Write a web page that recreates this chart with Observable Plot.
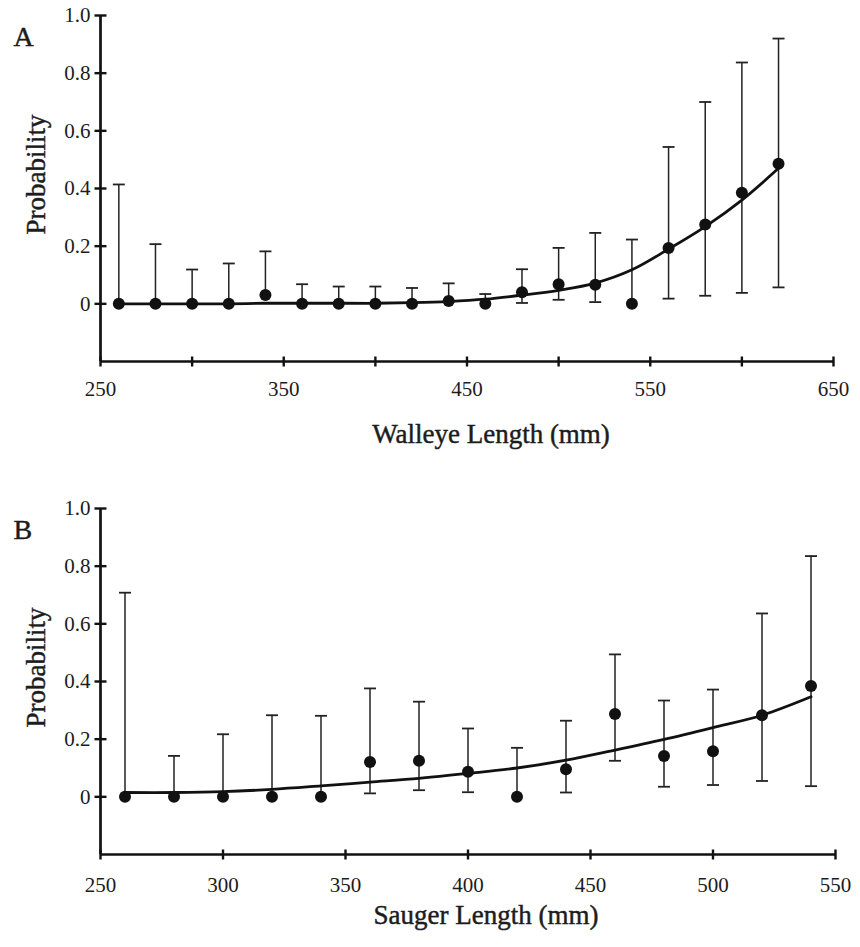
<!DOCTYPE html>
<html>
<head>
<meta charset="utf-8">
<script src="https://cdn.jsdelivr.net/npm/d3@7"></script>
<script src="https://cdn.jsdelivr.net/npm/@observablehq/plot@0.6"></script>
<style>
  body { margin: 0; background: #ffffff; }
  #chart svg { display: block; }
  #chart svg text { font-family: 'Liberation Serif', 'Times New Roman', serif; }
</style>
</head>
<body>
<div id="chart"></div>
<script>
// ---------- Panel A: Walleye ----------
const walleyeLength = [260, 280, 300, 320, 340, 360, 380, 400, 420, 440, 460, 480, 500, 520, 540, 560, 580, 600, 620];
const walleyeProb   = [0, 0, 0, 0, 0.031, 0, 0, 0, 0, 0.01, 0, 0.04, 0.068, 0.066, 0, 0.194, 0.275, 0.385, 0.486];
const walleyeUpper  = [0.414, 0.207, 0.119, 0.14, 0.182, 0.068, 0.06, 0.06, 0.055, 0.071, 0.034, 0.12, 0.194, 0.246, 0.223, 0.544, 0.70, 0.837, 0.92];
const walleyeLower  = [null, null, null, null, null, null, null, null, null, null, null, 0.003, 0.014, 0.006, null, 0.018, 0.028, 0.038, 0.057];
const walleyeFit    = [0, 0, 0, 0, 0.002, 0.002, 0.002, 0.002, 0.004, 0.008, 0.016, 0.03, 0.047, 0.072, 0.118, 0.19, 0.268, 0.36, 0.47];
const walleyeXTicks  = [250, 300, 350, 400, 450, 500, 550, 600, 650];
const walleyeXLabels = [250, 350, 450, 550, 650];
const walleyeXDomain = [250, 650];

// ---------- Panel B: Sauger ----------
const saugerLength = [260, 280, 300, 320, 340, 360, 380, 400, 420, 440, 460, 480, 500, 520, 540];
const saugerProb   = [0, 0, 0, 0, 0, 0.121, 0.125, 0.087, 0, 0.096, 0.287, 0.142, 0.158, 0.283, 0.384];
const saugerUpper  = [0.708, 0.142, 0.217, 0.283, 0.281, 0.376, 0.33, 0.237, 0.17, 0.264, 0.494, 0.334, 0.372, 0.636, 0.835];
const saugerLower  = [null, null, null, null, null, 0.012, 0.023, 0.016, null, 0.015, 0.125, 0.035, 0.041, 0.055, 0.037];
const saugerFit    = [0.015, 0.015, 0.018, 0.026, 0.038, 0.051, 0.064, 0.081, 0.1, 0.127, 0.162, 0.199, 0.24, 0.283, 0.347];
const saugerXTicks  = [250, 300, 350, 400, 450, 500, 550];
const saugerXLabels = [250, 300, 350, 400, 450, 500, 550];
const saugerXDomain = [250, 550];

// ---------- Shared y axis ----------
const yDomain = [-0.2, 1.0];
const yTickValues = [0, 0.2, 0.4, 0.6, 0.8, 1.0];
const yTickLabels = ["0", "0.2", "0.4", "0.6", "0.8", "1.0"];
const yTitle = "Probability";

const INK = "#111";
const TXT = "#1c1c1c";
const FONT = "Liberation Serif";

// custom symbols: short horizontal / vertical strokes (for caps and axis ticks)
const hline = { draw(ctx, size) { const r = Math.sqrt(size) / 2; ctx.moveTo(-r, 0); ctx.lineTo(r, 0); } };
const vline = { draw(ctx, size) { const r = Math.sqrt(size) / 2; ctx.moveTo(0, -r); ctx.lineTo(0, r); } };
const rFor = (w) => w / Math.sqrt(Math.PI);

function panel(cfg) {
  const data = cfg.length.map((x, i) => ({
    x, p: cfg.prob[i], upper: cfg.upper[i], lower: cfg.lower[i], fit: cfg.fit[i]
  }));
  const lowerCaps = data.filter(d => d.lower != null);
  const textStyle = { fontFamily: FONT, fill: TXT, stroke: TXT, strokeWidth: 0.45 };
  return Plot.plot({
    width: 860,
    height: cfg.height,
    marginLeft: 100,
    marginRight: cfg.marginRight,
    marginTop: cfg.marginTop,
    marginBottom: cfg.marginBottom,
    style: { fontFamily: FONT, fontSize: "21px", color: INK, background: "#fff" },
    x: { domain: cfg.xDomain },
    y: { domain: yDomain },
    marks: [
      // axis lines
      Plot.ruleX([{ x: cfg.xDomain[0], y1: yDomain[0], y2: yDomain[1] }], { x: "x", y1: "y1", y2: "y2", stroke: INK, strokeWidth: 2.7 }),
      Plot.ruleY([{ y: yDomain[0], x1: cfg.xDomain[0], x2: cfg.xDomain[1] }], { y: "y", x1: "x1", x2: "x2", stroke: INK, strokeWidth: 2.7 }),
      // axis tick marks (crossing the axis line)
      Plot.dot(yTickValues, { x: () => cfg.xDomain[0], y: d => d, symbol: hline, r: rFor(12), stroke: INK, strokeWidth: 2.4, fill: "none" }),
      Plot.dot(cfg.xTicks, { x: d => d, y: () => yDomain[0], symbol: vline, r: rFor(10), stroke: INK, strokeWidth: 2.4, fill: "none" }),
      // tick labels
      Plot.axisY(yTickValues, { tickSize: 0, tickPadding: 10, fontSize: 21, label: null, ...textStyle,
        tickFormat: d => yTickLabels[yTickValues.indexOf(d)] }),
      Plot.axisX(cfg.xLabels, { tickSize: 0, tickPadding: cfg.xLabelPad, fontSize: 21, label: null, ...textStyle,
        tickFormat: d => String(d) }),
      // error bars
      Plot.ruleX(data, { x: "x", y1: d => (d.lower != null ? d.lower : d.p), y2: "upper", stroke: "#222", strokeWidth: 1.5 }),
      Plot.dot(data, { x: "x", y: "upper", symbol: hline, r: rFor(12), stroke: "#222", strokeWidth: 1.8, fill: "none" }),
      Plot.dot(lowerCaps, { x: "x", y: "lower", symbol: hline, r: rFor(12), stroke: "#222", strokeWidth: 1.8, fill: "none" }),
      // fitted curve
      Plot.line(data, { x: "x", y: "fit", curve: "catmull-rom", stroke: INK, strokeWidth: 2.8 }),
      // observed points
      Plot.dot(data, { x: "x", y: "p", r: 6, fill: INK, stroke: "none" }),
      // axis titles
      Plot.text([cfg.xTitle], { text: d => d, frameAnchor: "bottom", dx: cfg.xTitleDx, dy: cfg.xTitleDy,
        lineAnchor: "middle", fontSize: 27, ...textStyle }),
      Plot.text([yTitle], { text: d => d, frameAnchor: "left", dx: -64, dy: -14, rotate: -90,
        lineAnchor: "middle", textAnchor: "middle", fontSize: 27, ...textStyle }),
      // panel letter
      Plot.text([cfg.letter], { text: d => d, frameAnchor: "top-left", dx: -87, dy: 22,
        textAnchor: "start", lineAnchor: "middle", fontSize: 28, ...textStyle })
    ]
  });
}

const chart = document.getElementById("chart");
chart.appendChild(panel({
  letter: "A", length: walleyeLength, prob: walleyeProb, upper: walleyeUpper, lower: walleyeLower, fit: walleyeFit,
  xTicks: walleyeXTicks, xLabels: walleyeXLabels, xDomain: walleyeXDomain, xTitle: "Walleye Length (mm)",
  height: 460, marginTop: 15, marginBottom: 99, marginRight: 27, xLabelPad: 20, xTitleDx: 24, xTitleDy: 73
}));
chart.appendChild(panel({
  letter: "B", length: saugerLength, prob: saugerProb, upper: saugerUpper, lower: saugerLower, fit: saugerFit,
  xTicks: saugerXTicks, xLabels: saugerXLabels, xDomain: saugerXDomain, xTitle: "Sauger Length (mm)",
  height: 487, marginTop: 48, marginBottom: 93, marginRight: 25, xLabelPad: 23, xTitleDx: 18, xTitleDy: 61
}));
</script>
</body>
</html>
